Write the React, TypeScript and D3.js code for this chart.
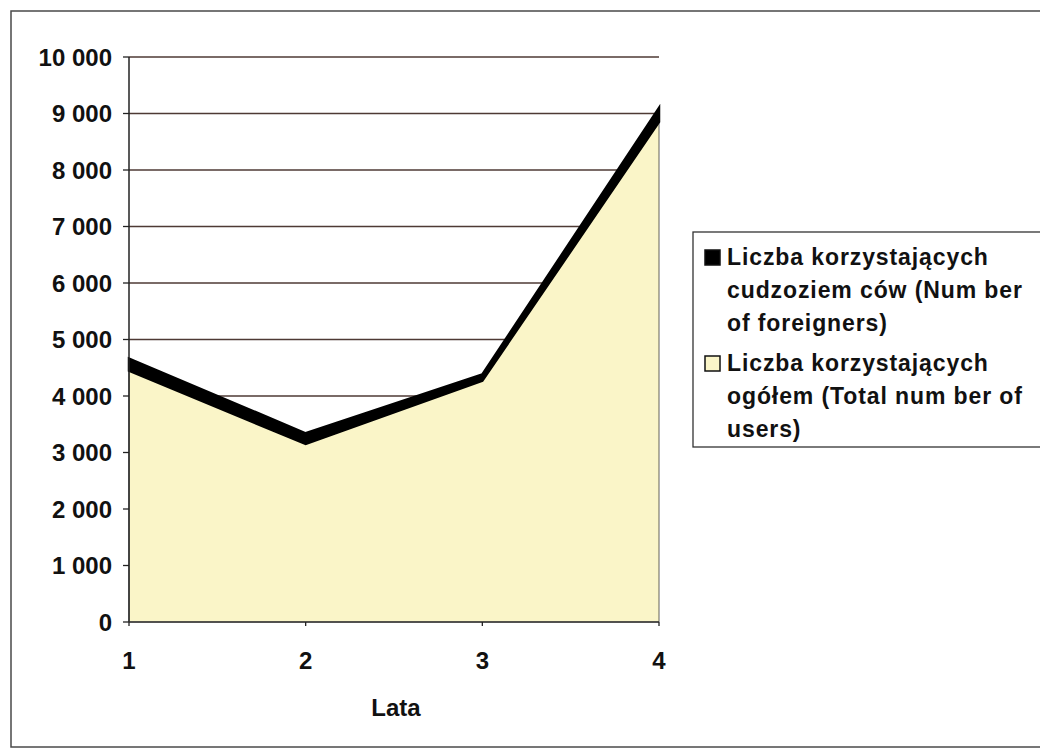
import React from "react";
import * as d3 from "d3";

const years = [1, 2, 3, 4];
const totalUsers = [4450, 3150, 4270, 8850];
const foreigners = [210, 190, 110, 250];
const yTicks = [0, 1000, 2000, 3000, 4000, 5000, 6000, 7000, 8000, 9000, 10000];
const xLabel = "Lata";
const legendItems = [
  { lines: ["Liczba korzystających", "cudzoziem ców (Num ber", "of foreigners)"], color: "#000000" },
  { lines: ["Liczba korzystających", "ogółem  (Total num ber of", "users)"], color: "#FAF5C8" },
];

const W = 1040;
const H = 752;
const plot = { left: 129, right: 659, top: 57, bottom: 622 };

export default function App() {
  const x = d3.scaleLinear().domain([1, 4]).range([plot.left, plot.right]);
  const y = d3.scaleLinear().domain([0, 10000]).range([plot.bottom, plot.top]);

  const rows = years.map((yr, i) => ({ yr, total: totalUsers[i], foreign: foreigners[i] }));
  const stack = d3.stack<any>().keys(["total", "foreign"]);
  const series = stack(rows);
  const area = d3
    .area<any>()
    .x((d) => x(d.data.yr))
    .y0((d) => y(d[0]))
    .y1((d) => y(d[1]));

  const fmt = (v: number) => d3.format(",")(v).replace(/,/g, " ");
  const font = "'Liberation Sans', Arial, sans-serif";

  return (
    <svg width={W} height={H} style={{ position: "absolute", left: 0, top: 0, background: "#fff" }}>
      <rect x={11} y={11} width={1040} height={736} fill="#fff" stroke="#4a4a4a" strokeWidth={1.5} />
      {/* gridlines */}
      {yTicks.filter((t) => t > 0).map((t) => (
        <line key={t} x1={plot.left} x2={plot.right} y1={y(t)} y2={y(t)} stroke="#4e3a34" strokeWidth={1.4} />
      ))}
      {/* areas */}
      <path d={area(series[0] as any) || ""} fill="#FAF5C8" stroke="#3a3a3a" strokeWidth={0.8} />
      <path d={area(series[1] as any) || ""} fill="#000" stroke="#000" strokeWidth={2.5} strokeLinejoin="miter" />
      {/* axes */}
      <line x1={plot.left} x2={plot.left} y1={plot.top} y2={plot.bottom} stroke="#222" strokeWidth={1.5} />
      <line x1={plot.left} x2={plot.right} y1={plot.bottom} y2={plot.bottom} stroke="#333" strokeWidth={1.5} />
      {yTicks.map((t) => (
        <g key={t}>
          <line x1={plot.left - 6} x2={plot.left} y1={y(t)} y2={y(t)} stroke="#222" strokeWidth={1.3} />
          <text x={112} y={y(t)} dy="0.36em" textAnchor="end" fontFamily={font} fontSize={24} fontWeight="bold" fill="#111">
            {fmt(t)}
          </text>
        </g>
      ))}
      {years.map((yr) => (
        <g key={yr}>
          <line x1={x(yr)} x2={x(yr)} y1={plot.bottom} y2={plot.bottom + 4} stroke="#222" strokeWidth={1.3} />
          <text x={x(yr)} y={660} dy="0.36em" textAnchor="middle" fontFamily={font} fontSize={24} fontWeight="bold" fill="#111">
            {yr}
          </text>
        </g>
      ))}
      <text x={396} y={707} dy="0.36em" textAnchor="middle" fontFamily={font} fontSize={24} fontWeight="bold" fill="#111">
        {xLabel}
      </text>
      {/* legend */}
      <rect x={693} y={232} width={400} height={215} fill="#fff" stroke="#333" strokeWidth={1.3} />
      {legendItems.map((item, i) => {
        const y0 = 257 + i * 106;
        return (
          <g key={i}>
            <rect x={705} y={y0 - 7} width={15} height={15} fill={item.color} stroke="#111" strokeWidth={1.5} />
            {item.lines.map((ln, j) => (
              <text key={j} x={727} y={y0 + j * 33} dy="0.36em" fontFamily={font} fontSize={23} fontWeight="bold" letterSpacing={0.9} fill="#111">
                {ln}
              </text>
            ))}
          </g>
        );
      })}
    </svg>
  );
}
